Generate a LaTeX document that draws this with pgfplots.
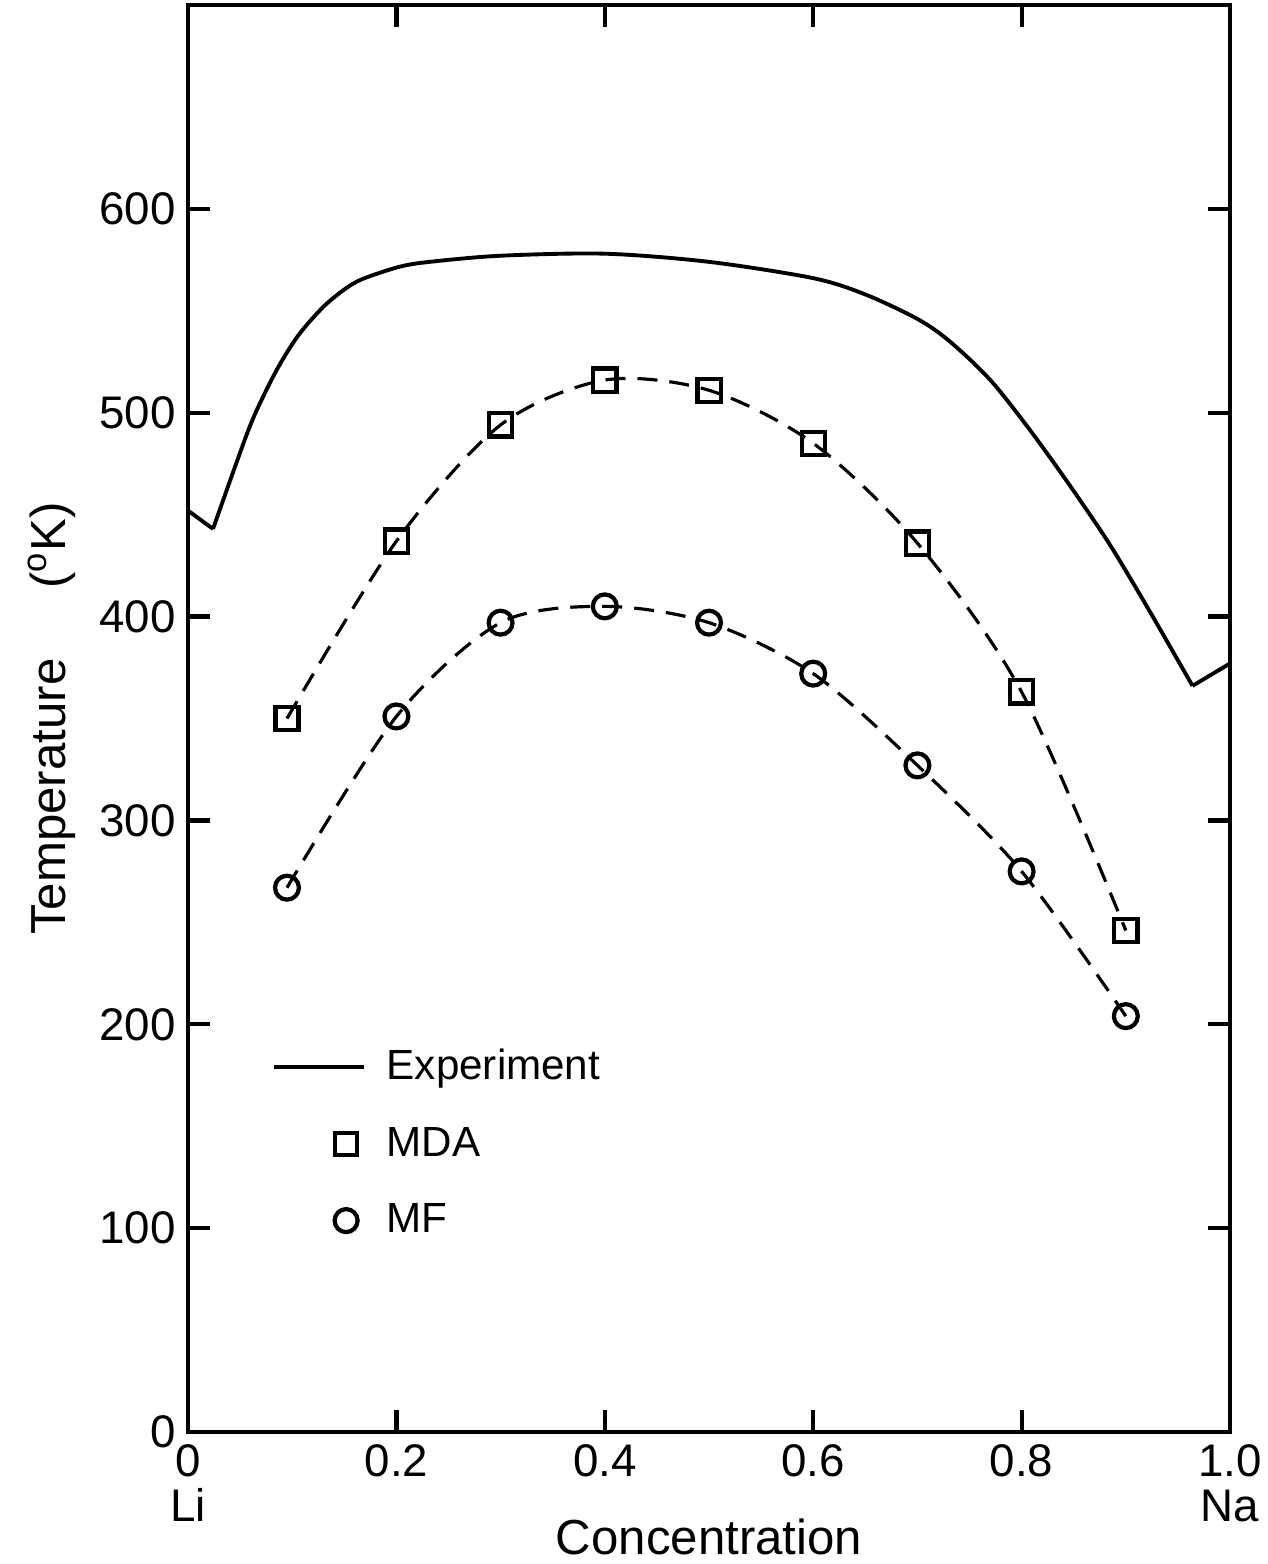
\documentclass[border=0pt]{standalone}
\usepackage{fontspec}
\setmainfont{Liberation Sans}
\usepackage{pgfplots}
\pgfplotsset{compat=1.18}
\usetikzlibrary{calc}

\begin{document}
\begin{tikzpicture}
\begin{axis}[
    name=ax,
    scale only axis,
    width=10.42cm, height=14.27cm,
    xmin=0, xmax=1, ymin=0, ymax=700,
    xtick={0,0.2,0.4,0.6,0.8,1},
    xticklabels={0\\Li,0.2,0.4,0.6,0.8,1.0\\Na},
    xticklabel style={align=center, font=\fontsize{13}{12.8}\selectfont},
    yticklabel style={font=\fontsize{13}{16}\selectfont},
    ytick={0,100,...,600},
    tick align=inside,
    major tick length=0.22cm,
    tick style={line width=1.2pt, black},
    axis line style={line width=1.4pt},
    xtick pos=both, ytick pos=both,
    xticklabel pos=lower, yticklabel pos=left,
    /pgf/number format/assume math mode=true,
    xlabel={Concentration},
    ylabel={Temperature\hspace{0.7cm}(\textsuperscript{o}K)},
    xlabel style={font=\fontsize{14}{16}\selectfont,
        at={(axis description cs:0.5,-0.0736)}, anchor=center},
    ylabel style={font=\fontsize{14}{16}\selectfont},
    legend style={at={(axis cs:0.07,195)}, anchor=north west, draw=none, fill=none,
        font=\fontsize{12}{14}\selectfont, row sep=0.28cm},
    legend cell align=left,
]
% experiment (solid)
\addplot[black, line width=1.1pt, forget plot] coordinates {
    (0,452) (0.024,443)
};
\addplot[black, line width=1.1pt, smooth, forget plot] coordinates {
    (0.024,443) (0.057,490.2) (0.073,508.8) (0.089,524.5)
    (0.107,538.7) (0.130,552) (0.151,560.8) (0.168,565.7) (0.203,571.6)
    (0.232,574) (0.3,577) (0.4,578) (0.5,574) (0.6,566) (0.65,558)
    (0.7,546) (0.731,535) (0.770,516) (0.808,491.5) (0.846,464.5)
    (0.885,435) (0.923,402.5) (0.964,366)
};
\addplot[black, line width=1.1pt, forget plot] coordinates {
    (0.964,366) (1.0,377)
};
% MDA
\addplot[black, line width=0.9pt, dash pattern=on 2mm off 1.2mm, smooth,
    mark=square, mark size=3.3pt, mark options={solid, fill=white, line width=1.2pt},
    forget plot] coordinates {
    (0.095,350) (0.2,437) (0.3,494) (0.4,516) (0.5,511)
    (0.6,485) (0.7,436) (0.8,363) (0.9,246)
};
% MF
\addplot[black, line width=0.9pt, dash pattern=on 2mm off 1.2mm, smooth,
    mark=o, mark size=3.4pt, mark options={solid, fill=white, line width=1.2pt},
    forget plot] coordinates {
    (0.095,267) (0.2,351) (0.3,397) (0.4,405) (0.5,397)
    (0.6,372) (0.7,327) (0.8,275) (0.9,204)
};
\addlegendimage{legend image code/.code={\draw[black, line width=1.1pt] (0cm,0cm) -- (0.9cm,0cm); \path (1.05cm,0cm);}}
\addlegendentry{Experiment}
\addlegendimage{legend image code/.code={\draw[black, line width=1.2pt] (0.61cm,-0.11cm) rectangle (0.83cm,0.11cm);}}
\addlegendentry{MDA}
\addlegendimage{legend image code/.code={\draw[black, line width=1.2pt] (0.72cm,0cm) circle (0.115cm);}}
\addlegendentry{MF}
\end{axis}
\pgfresetboundingbox
\path ($(ax.south west)+(-1.88cm,-1.32cm)$) rectangle ($(ax.north east)+(0.37cm,0.05cm)$);
\end{tikzpicture}
\end{document}
